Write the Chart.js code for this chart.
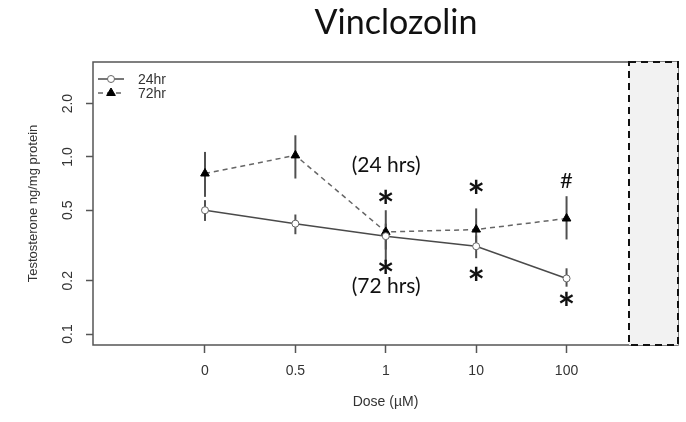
<!DOCTYPE html>
<html>
<head>
<meta charset="utf-8">
<script src="https://cdn.jsdelivr.net/npm/chart.js"></script>
<style>
  html, body { margin: 0; padding: 0; background: #ffffff; }
  #wrap { width: 686px; height: 422px; }
</style>
</head>
<body>
<div id="wrap"><canvas id="c" width="686" height="422"></canvas></div>
<script>
// ---- data ----
const categories = ['0', '0.5', '1', '10', '100'];
const mean24  = [0.50, 0.42, 0.357, 0.313, 0.206];
const upper24 = [0.57, 0.473, 0.42, 0.36, 0.235];
const lower24 = [0.435, 0.366, 0.257, 0.268, 0.185];
const mean72  = [0.806, 1.02, 0.377, 0.389, 0.449];
const upper72 = [1.067, 1.325, 0.50, 0.512, 0.60];
const lower72 = [0.595, 0.755, 0.30, 0.31, 0.342];
const yTicks = [0.1, 0.2, 0.5, 1, 2];
const yTickLabels = ['0.1', '0.2', '0.5', '1.0', '2.0'];
const seriesNames = ['24hr', '72hr'];
// significance annotations: [text, category index, y value]
const noteText = ['(24 hrs)', '*', '*', '(72 hrs)', '*', '*', '#', '*'];
const noteCat  = [2, 2, 2, 2, 3, 3, 4, 4];
const noteY    = [0.823, 0.595, 0.240, 0.185, 0.677, 0.220, 0.739, 0.159];

const AXIS_FONT = '"Liberation Sans", Arial, sans-serif';
const NOTE_FONT = 'Lato, "Open Sans", sans-serif';
const TXT = '#333333';

function drawInkCentered(ctx, text, cx, cy) {
  const m = ctx.measureText(text);
  const a = m.actualBoundingBoxAscent, d = m.actualBoundingBoxDescent;
  const l = m.actualBoundingBoxLeft, r = m.actualBoundingBoxRight;
  ctx.textAlign = 'left';
  ctx.textBaseline = 'alphabetic';
  ctx.fillText(text, cx - (r + l) / 2 + l, cy + (a - d) / 2);
}

const decor = {
  id: 'decor',
  beforeDatasetsDraw(chart) {
    const ctx = chart.ctx, xs = chart.scales.x, ys = chart.scales.y;
    ctx.save();
    ctx.strokeStyle = '#505050';
    ctx.lineWidth = 2;
    const bars = [[upper24, lower24], [upper72, lower72]];
    bars.forEach(([up, lo]) => {
      up.forEach((u, i) => {
        const x = xs.getPixelForValue(i);
        ctx.beginPath();
        ctx.moveTo(x, ys.getPixelForValue(u));
        ctx.lineTo(x, ys.getPixelForValue(lo[i]));
        ctx.stroke();
      });
    });
    ctx.restore();
  },
  afterDraw(chart) {
    const ctx = chart.ctx, xs = chart.scales.x, ys = chart.scales.y, ca = chart.chartArea;
    ctx.save();
    // plot frame
    ctx.strokeStyle = '#555555';
    ctx.lineWidth = 1.5;
    ctx.strokeRect(ca.left, ca.top, ca.right - ca.left, ca.bottom - ca.top);

    // shaded dashed panel on the right
    const bx = ca.right - 49;
    ctx.fillStyle = '#f2f2f2';
    ctx.fillRect(bx, ca.top, ca.right - bx, ca.bottom - ca.top);
    ctx.strokeStyle = '#111111';
    ctx.lineWidth = 2;
    ctx.setLineDash([7, 5]);
    ctx.strokeRect(bx, ca.top, ca.right - bx, ca.bottom - ca.top);
    ctx.setLineDash([]);

    // y tick labels (rotated like R)
    ctx.fillStyle = TXT;
    ctx.font = '14px ' + AXIS_FONT;
    yTicks.forEach((v, i) => {
      const y = ys.getPixelForValue(v);
      ctx.save();
      ctx.translate(68, y);
      ctx.rotate(-Math.PI / 2);
      ctx.textAlign = 'center';
      ctx.textBaseline = 'middle';
      ctx.fillText(yTickLabels[i], 0, 0);
      ctx.restore();
    });
    // y title
    ctx.save();
    ctx.translate(33, (ca.top + ca.bottom) / 2);
    ctx.rotate(-Math.PI / 2);
    ctx.textAlign = 'center';
    ctx.textBaseline = 'middle';
    ctx.font = '13px ' + AXIS_FONT;
    ctx.fillText('Testosterone ng/mg protein', 0, 0);
    ctx.restore();
    // x title
    ctx.textAlign = 'center';
    ctx.textBaseline = 'middle';
    ctx.font = '14px ' + AXIS_FONT;
    ctx.fillText('Dose (\u00B5M)', (ca.left + ca.right) / 2, 402);

    // chart title
    ctx.fillStyle = '#111111';
    ctx.font = '34px ' + NOTE_FONT;
    ctx.textAlign = 'center';
    ctx.textBaseline = 'alphabetic';
    ctx.fillText('Vinclozolin', 396, 34);

    // legend
    const ds = chart.data.datasets;
    seriesNames.forEach((name, i) => {
      const y = 79 + i * 14;
      const d = ds[i];
      ctx.strokeStyle = d.borderColor;
      ctx.lineWidth = d.borderWidth;
      ctx.setLineDash(d.borderDash || []);
      ctx.beginPath();
      ctx.moveTo(98, y); ctx.lineTo(124, y);
      ctx.stroke();
      ctx.setLineDash([]);
      ctx.fillStyle = d.pointBackgroundColor;
      ctx.strokeStyle = d.pointBorderColor;
      ctx.lineWidth = d.pointBorderWidth;
      ctx.beginPath();
      if (d.pointStyle === 'circle') {
        ctx.arc(111, y, d.pointRadius, 0, Math.PI * 2);
      } else {
        const r = d.pointRadius;
        ctx.moveTo(111, y - r);
        ctx.lineTo(111 + r * 0.87, y + r * 0.5);
        ctx.lineTo(111 - r * 0.87, y + r * 0.5);
        ctx.closePath();
      }
      ctx.fill(); ctx.stroke();
      ctx.fillStyle = TXT;
      ctx.font = '14px ' + AXIS_FONT;
      ctx.textAlign = 'left';
      ctx.textBaseline = 'middle';
      ctx.fillText(name, 138, y + 1);
    });

    // significance notes
    ctx.fillStyle = '#111111';
    noteText.forEach((t, i) => {
      const x = xs.getPixelForValue(noteCat[i]);
      const y = ys.getPixelForValue(noteY[i]);
      if (t === '*') ctx.font = 'bold 42px ' + NOTE_FONT;
      else if (t === '#') ctx.font = '22px ' + NOTE_FONT;
      else ctx.font = '21px ' + NOTE_FONT;
      drawInkCentered(ctx, t, x, y);
    });
    ctx.restore();
  }
};

new Chart(document.getElementById('c'), {
  type: 'scatter',
  data: {
    datasets: [
      {
        label: seriesNames[0],
        data: mean24.map((v, i) => ({ x: i, y: v })),
        showLine: true,
        borderColor: '#4a4a4a',
        borderWidth: 1.5,
        pointStyle: 'circle',
        pointRadius: 3.5,
        pointBorderWidth: 1,
        pointBackgroundColor: '#ffffff',
        pointBorderColor: '#666666'
      },
      {
        label: seriesNames[1],
        data: mean72.map((v, i) => ({ x: i, y: v })),
        showLine: true,
        borderColor: '#666666',
        borderWidth: 1.5,
        borderDash: [5, 4],
        pointStyle: 'triangle',
        pointRadius: 5,
        pointBorderWidth: 1,
        pointBackgroundColor: '#000000',
        pointBorderColor: '#000000'
      }
    ]
  },
  options: {
    responsive: false,
    devicePixelRatio: 1,
    animation: false,
    events: [],
    layout: { padding: { top: 62, right: 8, left: 0, bottom: 0 } },
    plugins: { legend: { display: false }, tooltip: { enabled: false }, title: { display: false } },
    scales: {
      x: {
        type: 'linear',
        min: -1.239,
        max: 5.233,
        afterBuildTicks: (s) => { s.ticks = categories.map((c, i) => ({ value: i })); },
        afterFit: (s) => { s.height = 77; },
        ticks: {
          callback: (v) => categories[v],
          color: TXT,
          font: { family: AXIS_FONT, size: 14 },
          padding: 10,
          maxRotation: 0,
          autoSkip: false
        },
        grid: { drawOnChartArea: false, drawTicks: true, tickLength: 8, tickColor: '#555555', tickWidth: 1.5 },
        border: { display: false }
      },
      y: {
        type: 'logarithmic',
        min: 0.0867,
        max: 3.435,
        afterBuildTicks: (s) => { s.ticks = yTicks.map(v => ({ value: v })); },
        afterFit: (s) => { s.width = 93; },
        ticks: { display: false },
        grid: { drawOnChartArea: false, drawTicks: true, tickLength: 7, tickColor: '#555555', tickWidth: 1.5 },
        border: { display: false }
      }
    }
  },
  plugins: [decor]
});
</script>
</body>
</html>
